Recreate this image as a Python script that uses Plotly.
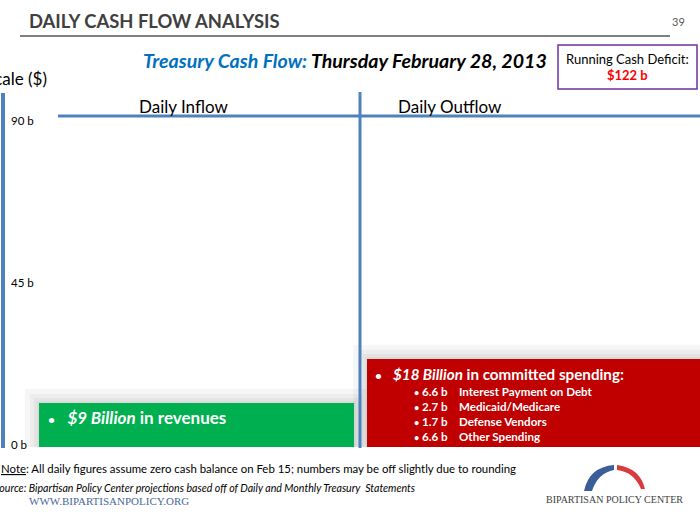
import plotly.graph_objects as go

# ---------------- data ----------------
CATEGORIES = ["Daily Inflow", "Daily Outflow"]
FLOWS = [9, 18]                      # $ billions for the day
OUT_ITEMS = ["Interest Payment on Debt", "Medicaid/Medicare", "Defense Vendors", "Other Spending"]
OUT_VALUES = [6.6, 2.7, 1.7, 6.6]    # $ billions
SCALE_TICKS = [0, 45, 90]
SCALE_LABELS = ["0 b", "45 b", "90 b"]
RUNNING_DEFICIT = 122
DATE_LABEL = "Thursday February 28, 2013"
SLIDE_NO = "39"

# ---------------- geometry helpers ----------------
W, H = 700, 525
T, B = 116, 78
PLOT_H = H - T - B
BASE = H - B


def px(x):
    return x / W


def py(y):
    return (BASE - y) / PLOT_H


FONT = "Lato"
SERIF = "Liberation Serif"
BLUE_LINE = "#4F81BD"
BAR_W = [0.922, 1.0]
XR = [-0.575, 1.474]
Y2R = [0, 67.6]
XU = (XR[1] - XR[0]) / W      # data units per pixel (x)
YU = (Y2R[1] - Y2R[0]) / PLOT_H  # data units per pixel (y2)
BUL = "<span style='font-size:12px'>•</span>"
BUL_S = "<span style='font-size:9px'>•</span>"

fig = go.Figure()
# invisible carrier for the scale axis
fig.add_trace(go.Scatter(x=[0] * len(SCALE_TICKS), y=SCALE_TICKS, mode="markers",
                         marker=dict(size=1, opacity=0), hoverinfo="skip"))
fig.add_trace(go.Bar(
    x=list(range(len(CATEGORIES))), y=FLOWS, width=BAR_W,
    marker=dict(color=["#00B050", "#C00000"], line=dict(width=0)),
    yaxis="y2", hoverinfo="skip", customdata=CATEGORIES,
))

shapes = []
# soft drop shadows around the boxes
for i, v in enumerate(FLOWS):
    for pad in (2, 5, 9, 14):
        shapes.append(dict(
            type="rect", xref="x", yref="y2", layer="below",
            x0=i - BAR_W[i] / 2 - pad * XU, x1=i + BAR_W[i] / 2 + pad * XU,
            y0=0, y1=v + pad * YU,
            fillcolor="rgba(0,0,0,0.035)", line=dict(width=0),
        ))

# frame lines
shapes += [
    dict(type="line", xref="paper", yref="paper", x0=px(20), x1=px(670), y0=py(36), y1=py(36),
         line=dict(color="#808080", width=2)),
    dict(type="line", xref="paper", yref="paper", x0=px(58), x1=px(700), y0=py(116), y1=py(116),
         line=dict(color=BLUE_LINE, width=3)),
    dict(type="line", xref="paper", yref="paper", x0=px(360), x1=px(360), y0=py(92), y1=py(448),
         line=dict(color=BLUE_LINE, width=3)),
    dict(type="line", xref="paper", yref="paper", x0=px(3), x1=px(3), y0=py(93), y1=py(448),
         line=dict(color=BLUE_LINE, width=4)),
    dict(type="rect", xref="paper", yref="paper", x0=px(558), x1=px(697), y0=py(89), y1=py(45),
         line=dict(color="#7030A0", width=1.5), fillcolor="white"),
]


def path(pts):
    out = []
    for cmd, coords in pts:
        s = cmd
        for j in range(0, len(coords), 2):
            s += f" {px(coords[j]):.5f},{py(coords[j + 1]):.5f}"
        out.append(s)
    return " ".join(out) + " Z"


shapes.append(dict(type="path", xref="paper", yref="paper", line=dict(width=0), fillcolor="#3B5E9A",
                   path=path([("M", [584, 491]), ("Q", [589, 467, 614, 465]), ("L", [614, 470]),
                              ("Q", [598, 473, 592, 491])])))
shapes.append(dict(type="path", xref="paper", yref="paper", line=dict(width=0), fillcolor="#D93A3F",
                   path=path([("M", [617, 465]), ("Q", [640, 468, 645, 489]), ("L", [641, 489]),
                              ("Q", [634, 472, 617, 470])])))

ann = []


def note(x, y, text, size, color="black", anchor="left", family=FONT, **kw):
    ann.append(dict(xref="paper", yref="paper", x=px(x), y=py(y), text=text, showarrow=False,
                    xanchor=anchor, yanchor="middle", font=dict(family=family, size=size, color=color), **kw))


note(27, 21, "<b>DAILY CASH FLOW ANALYSIS</b>", 18.4, "#404040")
note(678, 21, SLIDE_NO, 11, "#595959", anchor="center")
note(345, 61, f"<b><i><span style='color:#0070C0'>Treasury Cash Flow:</span> {DATE_LABEL}</i></b>", 19.6,
     anchor="center")
note(627, 59, "Running Cash Deficit:", 13, anchor="center")
note(627, 75, f"<b>${RUNNING_DEFICIT} b</b>", 13, "#FF0000", anchor="center")
note(49, 79, "Scale ($)", 17, anchor="right")
note(183, 106, CATEGORIES[0], 17, anchor="center")
note(450, 106, CATEGORIES[1], 17, anchor="center")
note(-1, 468, "<u>Note</u>: All daily figures assume zero cash balance on Feb 15; numbers may be off "
     "slightly due to rounding", 11.4)
note(-8, 488, "<i>Source: Bipartisan Policy Center projections based off of Daily and Monthly Treasury "
     " Statements</i>", 10.6)
note(27, 501, "WWW.BIPARTISANPOLICY.ORG", 11, "#4A6899", family=SERIF)
note(614, 499, "BIPARTISAN POLICY CENTER", 10, "#404040", anchor="center", family=SERIF)

# bar texts
ann.append(dict(xref="x", yref="y2", x=0 - BAR_W[0] / 2, y=FLOWS[0], xshift=7, yshift=-15,
                xanchor="left", yanchor="middle", showarrow=False,
                text=f"<b>{BUL}   <i>${FLOWS[0]} Billion</i> in revenues</b>",
                font=dict(family=FONT, size=17, color="white")))
ann.append(dict(xref="x", yref="y2", x=1 - BAR_W[1] / 2, y=FLOWS[1], xshift=6, yshift=-15,
                xanchor="left", yanchor="middle", showarrow=False,
                text=f"<b>{BUL}   <i>${FLOWS[1]} Billion</i> in committed spending:</b>",
                font=dict(family=FONT, size=15.2, color="white")))
for k, (item, val) in enumerate(zip(OUT_ITEMS, OUT_VALUES)):
    for shift, txt in ((45, f"<b>{BUL_S} {val} b</b>"), (90, f"<b>{item}</b>")):
        ann.append(dict(xref="x", yref="y2", x=1 - BAR_W[1] / 2, y=FLOWS[1], xshift=shift,
                        yshift=-33 - 15 * k, xanchor="left", yanchor="middle", showarrow=False,
                        text=txt, font=dict(family=FONT, size=11.6, color="white")))

fig.update_layout(
    width=W, height=H, margin=dict(l=0, r=0, t=T, b=B, pad=0),
    paper_bgcolor="white", plot_bgcolor="rgba(0,0,0,0)", showlegend=False,
    xaxis=dict(range=XR, visible=False, fixedrange=True),
    yaxis=dict(range=[-0.55, 91.4], tickvals=SCALE_TICKS, ticktext=SCALE_LABELS,
               ticklabelposition="inside", ticklabelstandoff=8, ticklabeloverflow="allow",
               showgrid=False, zeroline=False, showline=False, ticks="",
               tickfont=dict(family=FONT, size=11.5, color="black"), fixedrange=True),
    yaxis2=dict(range=Y2R, overlaying="y", visible=False, fixedrange=True),
    shapes=shapes, annotations=ann, bargap=0,
)

fig.write_html("out.html", config={"displayModeBar": False},
               post_script="document.body.style.margin='0';document.body.style.overflow='hidden';")
